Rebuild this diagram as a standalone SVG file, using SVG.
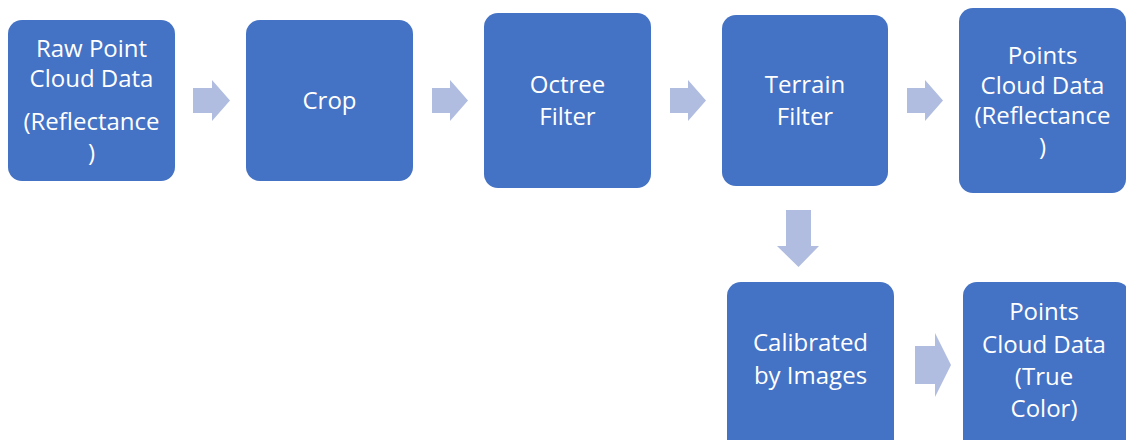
<svg xmlns="http://www.w3.org/2000/svg" width="1126" height="440" viewBox="0 0 1126 440">
  <style>
    .box { fill: #4472C4; }
    .arrow { fill: #B0BDE0; }
    .label { font-family: "Open Sans", "Noto Sans", sans-serif; font-size: 24px; fill: #FFFFFF; text-anchor: middle; }
  </style>
  <rect width="1126" height="440" fill="#FFFFFF"/>

  <!-- block arrows between the processing steps -->
  <g id="connectors">
    <polygon class="arrow" points="193,88 212,88 212,80 230,100.5 212,121 212,113 193,113"/>
    <polygon class="arrow" points="432,88 450,88 450,80 468,100.5 450,121 450,113 432,113"/>
    <polygon class="arrow" points="670,88 688,88 688,80 706,100.5 688,121 688,113 670,113"/>
    <polygon class="arrow" points="907,88 925,88 925,80 943,100.5 925,121 925,113 907,113"/>
    <polygon class="arrow" points="786,210 811,210 811,246 819,246 798.5,267 777,246 786,246"/>
    <polygon class="arrow" points="915,346 935,346 935,333 951,365 935,397 935,384 915,384"/>
  </g>

  <g id="raw-point-cloud">
    <rect class="box" x="8" y="20" width="167" height="161" rx="14"/>
    <text class="label" x="91.5" y="57">Raw Point</text>
    <text class="label" x="91.5" y="87">Cloud Data</text>
    <text class="label" x="91.5" y="130">(Reflectance</text>
    <text class="label" x="91.5" y="161">)</text>
  </g>

  <g id="crop">
    <rect class="box" x="246" y="20" width="167" height="161" rx="14"/>
    <text class="label" x="329.5" y="109">Crop</text>
  </g>

  <g id="octree-filter">
    <rect class="box" x="484" y="13" width="167" height="175" rx="14"/>
    <text class="label" x="567.5" y="93">Octree</text>
    <text class="label" x="567.5" y="125">Filter</text>
  </g>

  <g id="terrain-filter">
    <rect class="box" x="722" y="15" width="166" height="171" rx="14"/>
    <text class="label" x="805" y="93">Terrain</text>
    <text class="label" x="805" y="125">Filter</text>
  </g>

  <g id="points-reflectance">
    <rect class="box" x="959" y="8" width="167" height="185" rx="14"/>
    <text class="label" x="1042.5" y="64">Points</text>
    <text class="label" x="1042.5" y="94">Cloud Data</text>
    <text class="label" x="1042.5" y="124">(Reflectance</text>
    <text class="label" x="1042.5" y="155">)</text>
  </g>

  <g id="calibrated-by-images">
    <rect class="box" x="727" y="282" width="167" height="175" rx="14"/>
    <text class="label" x="810.5" y="351">Calibrated</text>
    <text class="label" x="810.5" y="384">by Images</text>
  </g>

  <g id="points-true-color">
    <rect class="box" x="963" y="282" width="167" height="175" rx="14"/>
    <text class="label" x="1044" y="320">Points</text>
    <text class="label" x="1044" y="353">Cloud Data</text>
    <text class="label" x="1044" y="385">(True</text>
    <text class="label" x="1044" y="417">Color)</text>
  </g>
</svg>
